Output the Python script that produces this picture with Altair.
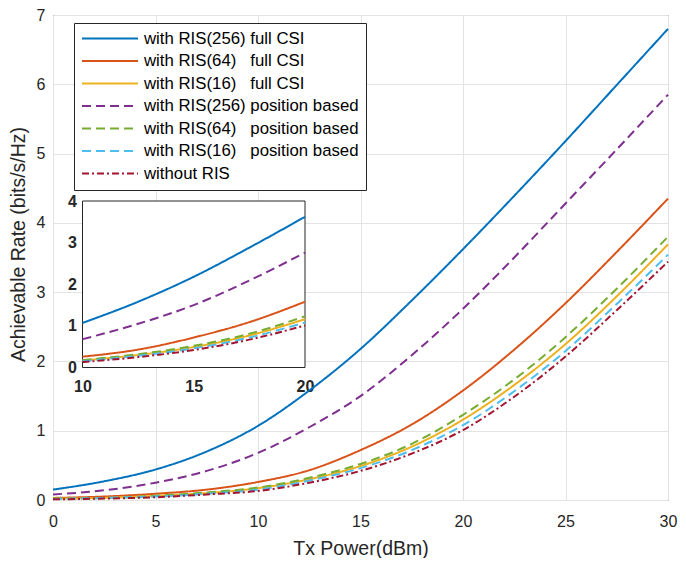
import altair as alt
import pandas as pd

# ---- data ----
tx_power = [0, 2.5, 5, 7.5, 10, 12.5, 15, 17.5, 20, 22.5, 25, 27.5, 30]
ris256_full = [0.15, 0.27, 0.44, 0.70, 1.07, 1.58, 2.18, 2.88, 3.62, 4.39, 5.18, 5.99, 6.80]
ris64_full = [0.03, 0.05, 0.09, 0.15, 0.26, 0.43, 0.72, 1.09, 1.58, 2.17, 2.84, 3.58, 4.35]
ris16_full = [0.02, 0.03, 0.06, 0.10, 0.17, 0.30, 0.49, 0.77, 1.16, 1.66, 2.25, 2.94, 3.69]
ris256_pos = [0.08, 0.14, 0.25, 0.42, 0.68, 1.05, 1.50, 2.09, 2.76, 3.50, 4.28, 5.06, 5.85]
ris64_pos = [0.02, 0.03, 0.06, 0.11, 0.18, 0.32, 0.52, 0.81, 1.23, 1.74, 2.35, 3.05, 3.80]
ris16_pos = [0.015, 0.03, 0.05, 0.09, 0.15, 0.28, 0.46, 0.72, 1.08, 1.57, 2.15, 2.83, 3.54]
no_ris = [0.01, 0.02, 0.04, 0.08, 0.13, 0.25, 0.42, 0.67, 1.01, 1.49, 2.07, 2.74, 3.44]

NB = "\u00a0"
series_names = [
    "with RIS(256) full CSI",
    "with RIS(64)" + NB * 3 + "full CSI",
    "with RIS(16)" + NB * 3 + "full CSI",
    "with RIS(256) position based",
    "with RIS(64)" + NB * 3 + "position based",
    "with RIS(16)" + NB * 3 + "position based",
    "without RIS",
]
series_values = [ris256_full, ris64_full, ris16_full, ris256_pos, ris64_pos, ris16_pos, no_ris]
series_colors = ["#0072BD", "#D95319", "#EDB120", "#7E2F8E", "#77AC30", "#4DBEEE", "#A2142F"]
series_dash = [[1, 0], [1, 0], [1, 0], [9, 5], [9, 5], [9, 5], [7, 3, 2, 3]]

x_ticks = [0, 5, 10, 15, 20, 25, 30]
y_ticks = [0, 1, 2, 3, 4, 5, 6, 7]
inset_x_ticks = [10, 15, 20]
inset_y_ticks = [0, 1, 2, 3, 4]
inset_box = pd.DataFrame({"x0": [10], "x1": [20], "y0": [0], "y1": [4]})

rows = []
for name, vals in zip(series_names, series_values):
    for xv, yv in zip(tx_power, vals):
        rows.append({"tx": xv, "rate": yv, "series": name})
df = pd.DataFrame(rows)
inset_df = df[(df.tx >= 10) & (df.tx <= 20)]

FONT = "Liberation Sans"
W, H = 615, 485

legend_cfg = alt.Legend(
    title=None, orient="none", legendX=21, legendY=8,
    symbolType="stroke", symbolSize=3136, symbolStrokeWidth=2,
    labelFontSize=16.8, labelFont=FONT, labelColor="black", labelLimit=500,
    fillColor="white", strokeColor="#262626", padding=7, rowPadding=4.5,
    clipHeight=17, labelOffset=5,
)
color_enc = alt.Color("series:N", scale=alt.Scale(domain=series_names, range=series_colors), legend=legend_cfg)
dash_enc = alt.StrokeDash("series:N", scale=alt.Scale(domain=series_names, range=series_dash), legend=legend_cfg)

main = alt.Chart(df).mark_line(strokeWidth=2, interpolate="monotone").encode(
    x=alt.X("tx:Q", scale=alt.Scale(domain=[0, 30], nice=False, zero=False),
            axis=alt.Axis(values=x_ticks, title="Tx Power(dBm)", grid=True, labelPadding=13,
                          labelFlush=False, titleY=54, titleBaseline="alphabetic")),
    y=alt.Y("rate:Q", scale=alt.Scale(domain=[0, 7], nice=False),
            axis=alt.Axis(values=y_ticks, title="Achievable Rate (bits/s/Hz)", grid=True, labelPadding=8,
                          labelFlush=False, titleX=-35, titleY=229, titleBaseline="middle")),
    color=color_enc,
    strokeDash=dash_enc,
)

ix_scale = alt.Scale(domain=[10, 20], range=[29.5, 252], nice=False, zero=False)
iy_scale = alt.Scale(domain=[0, 4], range=[352.5, 186], nice=False)
ix_axis = alt.Axis(orient="bottom", offset=-132.5, values=inset_x_ticks, grid=False, title=None,
                   labelFontWeight="bold", labelFontSize=16, labelPadding=11, labelColor="#262626",
                   labelFlush=False)
iy_axis = alt.Axis(orient="left", offset=-29.5, values=inset_y_ticks, grid=False, title=None,
                   labelFontWeight="bold", labelFontSize=16, labelPadding=6, labelColor="#262626",
                   labelFlush=False)

box = alt.Chart(inset_box).mark_rect(fill="white", stroke="#262626", strokeWidth=1).encode(
    x=alt.X("x0:Q", scale=ix_scale, axis=ix_axis),
    x2="x1",
    y=alt.Y("y0:Q", scale=iy_scale, axis=iy_axis),
    y2="y1",
)
inset_lines = alt.Chart(inset_df).mark_line(strokeWidth=2, interpolate="monotone").encode(
    x=alt.X("tx:Q", scale=ix_scale, axis=ix_axis),
    y=alt.Y("rate:Q", scale=iy_scale, axis=iy_axis),
    color=color_enc,
    strokeDash=dash_enc,
)
inset = alt.layer(box, inset_lines)

chart = alt.layer(main, inset).resolve_scale(x="independent", y="independent").properties(
    width=W, height=H,
    padding={"left": 45, "top": 7, "right": 10, "bottom": 58},
    autosize=alt.AutoSizeParams(type="none"),
    background="white",
).configure_view(
    stroke="#262626", strokeWidth=1
).configure_axis(
    labelFont=FONT, labelFontSize=16, labelColor="#262626",
    titleFont=FONT, titleFontSize=19.5, titleFontWeight="normal", titleColor="#262626",
    gridColor="#e3e3e3", gridWidth=1, domain=False, ticks=False, tickSize=0,
)

chart.save("out.html", embed_options={"renderer": "svg", "actions": False})
